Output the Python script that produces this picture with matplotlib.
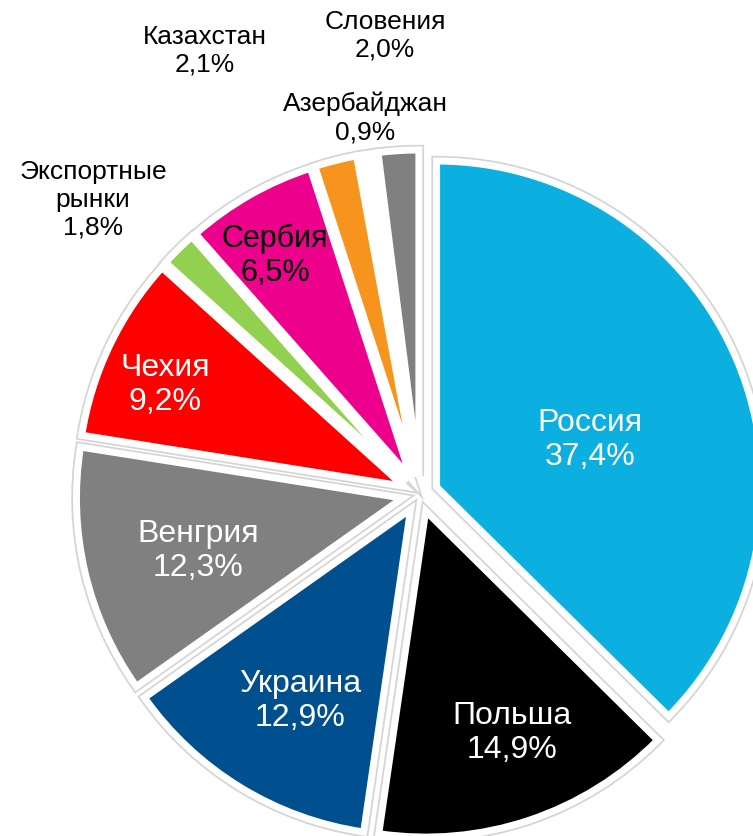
#!/usr/bin/env python3
from matplotlib import pyplot as plt

plt.rcParams['font.family'] = ['Liberation Sans', 'DejaVu Sans']

# clockwise from 12 o'clock
countries = ['Россия', 'Польша', 'Украина', 'Венгрия', 'Чехия',
             'Экспортные\nрынки', 'Сербия', 'Казахстан', 'Азербайджан', 'Словения']
shares = [37.4, 14.9, 12.9, 12.3, 9.2, 1.8, 6.5, 2.1, 0.9, 2.0]
colors = ['#0BB0E0', '#000000', '#00508F', '#808080', '#FF0000',
          '#92D050', '#EC008C', '#F7941D', '#FFFFFF', '#808080']

# label placement (pixels, y from top), colour, size
label_pos = [(590, 440), (512, 733), (300, 701), (198, 551), (165, 385),
             (93, 200), (275, 256), (205, 51), (365, 118), (385, 36)]
label_col = ['white'] * 5 + ['black'] * 5
label_size = [23] * 5 + [19, 22, 19, 19, 19]

W, H = 753, 837
f = plt.figure(figsize=(W / 100, H / 100), dpi=100)
ax = f.add_axes((0, 0, 1, 1))

cx, cy, r = 420, H - 495, 326
expl = [18] * len(shares)   # pie offsets wedges in data units

# light gray outline underneath, white rim on top
for ec, lw in (('#d4d4d4', 7.5), ('white', 5)):
  ax.pie(shares, colors=colors, startangle=90, counterclock=False,
         explode=expl, center=(cx, cy), radius=r,
         wedgeprops=dict(edgecolor=ec, linewidth=lw, joinstyle='miter'))

for name, v, (x, y), c, s in zip(countries, shares, label_pos, label_col, label_size):
  txt = f'{name}\n{v:.1f}%'.replace('.', ',')
  ax.text(x, H - y, txt, ha='center', va='center', multialignment='center',
          color=c, fontsize=s, linespacing=1.2)

ax.set_xlim(0, W)
ax.set_ylim(0, H)
ax.set_aspect('auto')
ax.axis('off')
f.savefig('out.png', dpi=100)
